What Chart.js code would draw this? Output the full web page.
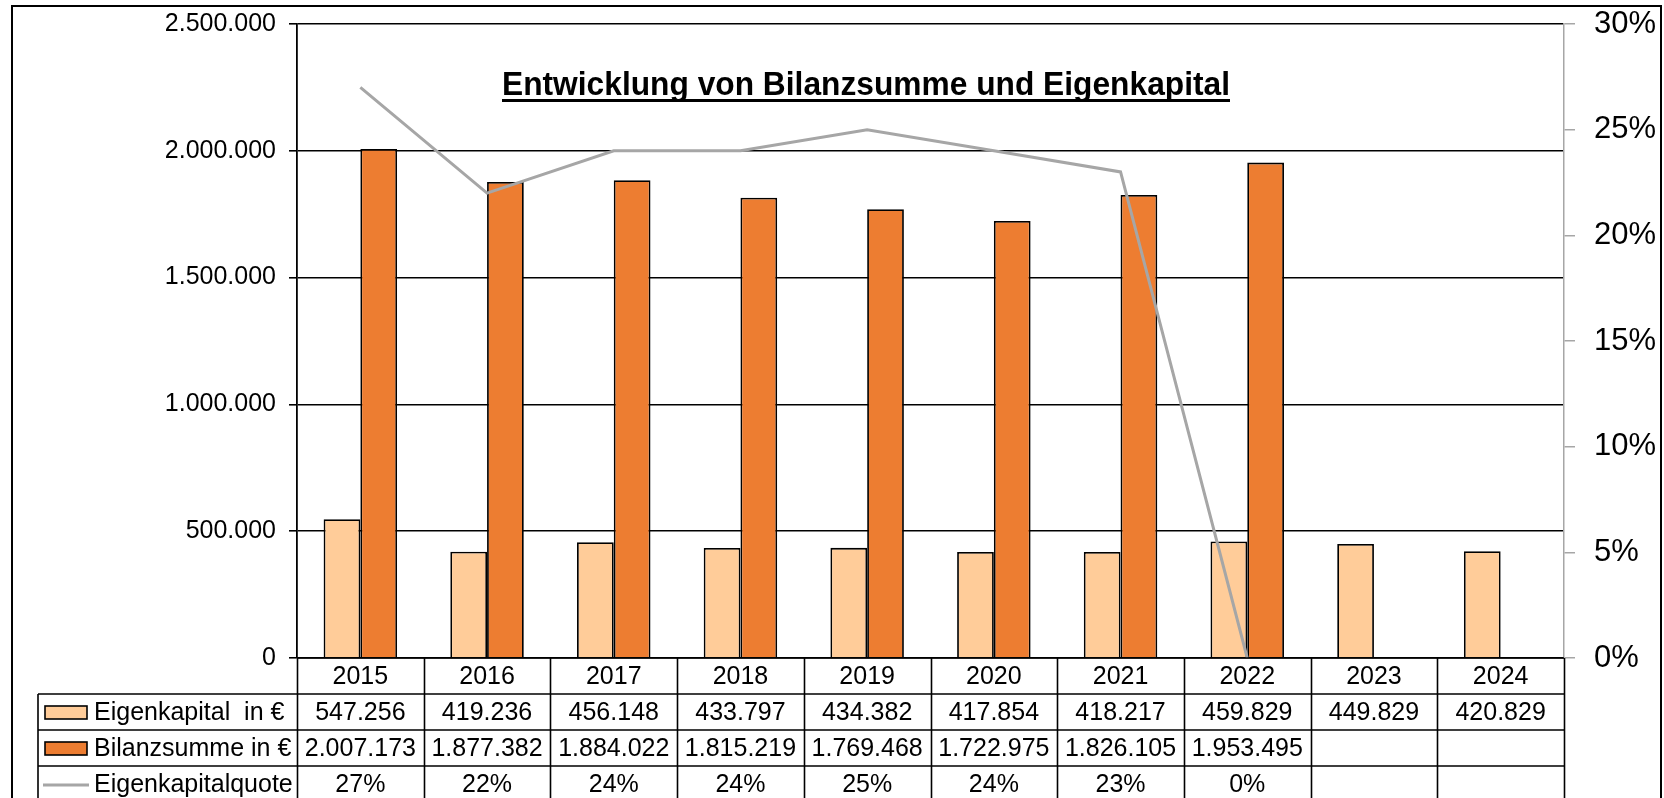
<!DOCTYPE html>
<html>
<head>
<meta charset="utf-8">
<script src="https://cdn.jsdelivr.net/npm/chart.js@4/dist/chart.umd.min.js"></script>
<style>
  html, body { margin: 0; padding: 0; background: #fff; }
  canvas { display: block; }
</style>
</head>
<body>
<canvas id="chart" width="1664" height="798"></canvas>
<script>
const years = ['2015', '2016', '2017', '2018', '2019', '2020', '2021', '2022', '2023', '2024'];
const eigenkapital = [547256, 419236, 456148, 433797, 434382, 417854, 418217, 459829, 449829, 420829];
const bilanzsumme = [2007173, 1877382, 1884022, 1815219, 1769468, 1722975, 1826105, 1953495, null, null];
const quote = [0.27, 0.22, 0.24, 0.24, 0.25, 0.24, 0.23, 0, null, null];
const leftTicks = [0, 500000, 1000000, 1500000, 2000000, 2500000];
const rightTicks = [0, 0.05, 0.1, 0.15, 0.2, 0.25, 0.3];

const titleText = 'Entwicklung von Bilanzsumme und Eigenkapital';
const FONT = '"Liberation Sans", Arial, sans-serif';
const ekColor = '#FFCC99';
const bsColor = '#ED7D31';
const lineColor = '#A6A6A6';

// 1234567 -> 1.234.567
const fmt = (v) => String(Math.round(v)).replace(/\B(?=(\d{3})+(?!\d))/g, '.');
const pct = (v) => Math.round(v * 100) + '%';

const rowTop = 658;
const rowH = 36;
const tableLeft = 38;

const frame = {
  id: 'frame',
  afterDraw(chart) {
    const ctx = chart.ctx;
    const area = chart.chartArea;
    const x = chart.scales.x;
    const colW = (area.right - area.left) / years.length;
    ctx.save();

    // outer border
    ctx.strokeStyle = '#000';
    ctx.lineWidth = 2;
    ctx.strokeRect(12, 6, 1649, 820);

    // title, slightly condensed like the original
    ctx.fillStyle = '#000';
    ctx.font = 'bold 34px ' + FONT;
    ctx.textAlign = 'center';
    ctx.textBaseline = 'alphabetic';
    ctx.fillText(titleText, 866, 95, 728);
    ctx.fillRect(502, 99, 728, 3);

    // table grid
    ctx.strokeStyle = '#000';
    ctx.lineWidth = 1.6;
    ctx.beginPath();
    ctx.moveTo(area.left, rowTop);
    ctx.lineTo(area.right, rowTop);
    for (let r = 1; r <= 4; r++) {
      ctx.moveTo(tableLeft, rowTop + r * rowH);
      ctx.lineTo(area.right, rowTop + r * rowH);
    }
    ctx.moveTo(tableLeft, rowTop + rowH);
    ctx.lineTo(tableLeft, 798);
    for (let i = 0; i <= years.length; i++) {
      const cx = Math.round(area.left + i * colW) + 0.5;
      ctx.moveTo(cx, rowTop);
      ctx.lineTo(cx, 798);
    }
    ctx.stroke();

    // table texts
    ctx.font = '25px ' + FONT;
    ctx.textAlign = 'center';
    ctx.textBaseline = 'middle';
    years.forEach((y, i) => {
      const cx = x.getPixelForValue(i);
      ctx.fillText(y, cx, rowTop + rowH / 2 + 1, colW - 4);
      if (eigenkapital[i] != null) ctx.fillText(fmt(eigenkapital[i]), cx, rowTop + rowH * 1.5 + 1, colW - 4);
      if (bilanzsumme[i] != null) ctx.fillText(fmt(bilanzsumme[i]), cx, rowTop + rowH * 2.5 + 1, colW - 4);
      if (quote[i] != null) ctx.fillText(pct(quote[i]), cx, rowTop + rowH * 3.5 + 1, colW - 4);
    });

    // legend keys in the first column
    const labels = chart.data.datasets.map((d) => d.label);
    ctx.textAlign = 'left';
    const keyL = 45, keyW = 42, textX = 94;
    const rows = [rowTop + rowH * 1.5, rowTop + rowH * 2.5, rowTop + rowH * 3.5];
    [ekColor, bsColor].forEach((c, k) => {
      ctx.fillStyle = c;
      ctx.fillRect(keyL, rows[k] - 6, keyW, 13);
      ctx.strokeStyle = '#000';
      ctx.lineWidth = 1.6;
      ctx.strokeRect(keyL, rows[k] - 6, keyW, 13);
    });
    ctx.strokeStyle = lineColor;
    ctx.lineWidth = 3;
    ctx.beginPath();
    ctx.moveTo(keyL - 2, rows[2] + 1);
    ctx.lineTo(keyL + keyW + 2, rows[2] + 1);
    ctx.stroke();
    ctx.fillStyle = '#000';
    labels.forEach((l, k) => {
      ctx.fillText(l, textX, rows[k] + 1, area.left - textX - 3);
    });

    ctx.restore();
  }
};

new Chart(document.getElementById('chart'), {
  data: {
    labels: years,
    datasets: [
      {
        type: 'bar',
        label: 'Eigenkapital  in €',
        data: eigenkapital,
        backgroundColor: ekColor,
        borderColor: '#000',
        borderWidth: 1.8,
        yAxisID: 'y',
        order: 2,
        categoryPercentage: 0.58,
        barPercentage: 1
      },
      {
        type: 'bar',
        label: 'Bilanzsumme in €',
        data: bilanzsumme,
        backgroundColor: bsColor,
        borderColor: '#000',
        borderWidth: 1.8,
        yAxisID: 'y',
        order: 2,
        categoryPercentage: 0.58,
        barPercentage: 1
      },
      {
        type: 'line',
        label: 'Eigenkapitalquote',
        data: quote,
        borderColor: lineColor,
        borderWidth: 3,
        pointRadius: 0,
        tension: 0,
        spanGaps: false,
        yAxisID: 'y1',
        order: 1
      }
    ]
  },
  options: {
    responsive: false,
    animation: false,
    layout: { padding: { top: 24, left: 12, right: 0, bottom: 0 } },
    plugins: {
      legend: { display: false },
      tooltip: { enabled: false },
      title: { display: false }
    },
    scales: {
      x: {
        grid: { display: false },
        border: { display: false },
        ticks: { display: false },
        afterFit: (s) => { s.height = 140; }
      },
      y: {
        position: 'left',
        min: leftTicks[0],
        max: leftTicks[leftTicks.length - 1],
        afterBuildTicks: (s) => { s.ticks = leftTicks.map((v) => ({ value: v })); },
        afterFit: (s) => { s.width = 297 - 12; s.paddingTop = 0; s.paddingBottom = 0; },
        grid: { color: '#000', lineWidth: 1.6, tickLength: 8 },
        border: { color: '#000', width: 1.8 },
        ticks: {
          color: '#000',
          padding: 13,
          font: { family: FONT, size: 25 },
          callback: (v) => fmt(v)
        }
      },
      y1: {
        position: 'right',
        min: rightTicks[0],
        max: rightTicks[rightTicks.length - 1],
        afterBuildTicks: (s) => { s.ticks = rightTicks.map((v) => ({ value: v })); },
        afterFit: (s) => { s.width = 1664 - 1564; s.paddingTop = 0; s.paddingBottom = 0; },
        grid: { drawOnChartArea: false, color: lineColor, lineWidth: 1.5, tickLength: 11 },
        border: { color: lineColor, width: 1.5 },
        ticks: {
          color: '#000',
          padding: 19,
          font: { family: FONT, size: 31 },
          callback: (v) => pct(v)
        }
      }
    }
  },
  plugins: [frame]
});
</script>
</body>
</html>
